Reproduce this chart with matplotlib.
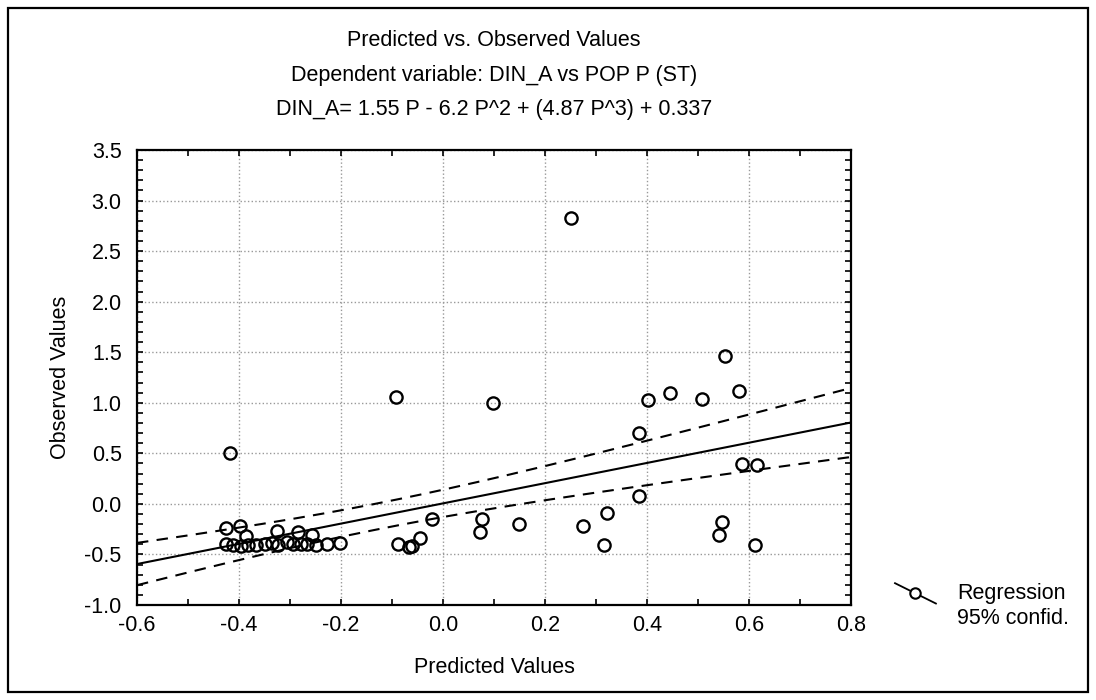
import numpy as np
import matplotlib
matplotlib.use("Agg")
import matplotlib.pyplot as plt
from matplotlib.lines import Line2D
from matplotlib.legend_handler import HandlerBase
from matplotlib.patches import Rectangle
from matplotlib.ticker import MultipleLocator, FormatStrFormatter

plt.rcParams['font.family'] = ['Liberation Sans', 'DejaVu Sans']

# ---- data ----
predicted = [
    -0.418, -0.425, -0.399, -0.386, -0.326, -0.285, -0.256,
    -0.425, -0.411, -0.396, -0.382, -0.367, -0.350, -0.336, -0.323,
    -0.305, -0.294, -0.278, -0.266, -0.249, -0.228, -0.202,
    -0.093, 0.099, -0.021, 0.076, 0.073, -0.089, -0.061, -0.066, -0.046,
    0.149, 0.275, 0.321, 0.316,
    0.553, 0.401, 0.446, 0.508, 0.580, 0.384, 0.587, 0.615, 0.384,
    0.548, 0.541, 0.612, 0.251,
]
observed = [
    0.507, -0.24, -0.22, -0.32, -0.27, -0.28, -0.31,
    -0.40, -0.41, -0.415, -0.41, -0.41, -0.40, -0.39, -0.41,
    -0.38, -0.40, -0.40, -0.40, -0.41, -0.40, -0.39,
    1.06, 1.00, -0.15, -0.15, -0.28, -0.40, -0.42, -0.43, -0.34,
    -0.20, -0.22, -0.09, -0.41,
    1.46, 1.03, 1.10, 1.04, 1.12, 0.705, 0.395, 0.38, 0.08,
    -0.18, -0.31, -0.41, 2.83,
]

# fitted regression line and 95% confidence band parameters
reg_slope = 1.0
reg_intercept = 0.005
ci_center = -0.12
ci_var0 = 0.0165
ci_varslope = 0.118

titles = [
    "Predicted vs. Observed Values",
    "Dependent variable: DIN_A vs POP P (ST)",
    "DIN_A= 1.55 P - 6.2 P^2 + (4.87 P^3) + 0.337",
]
x_label = "Predicted Values"
y_label = "Observed Values"
legend_labels = ["Regression", "95% confid."]
x_lim = (-0.6, 0.8)
y_lim = (-1.0, 3.5)

# ---- figure ----
fig = plt.figure(figsize=(10.96, 7.0), dpi=100)
ax = fig.add_axes([137 / 1096, 1 - 605 / 700, (851 - 137) / 1096, (605 - 150) / 700])

xs = np.linspace(x_lim[0], x_lim[1], 200)
yfit = reg_intercept + reg_slope * xs
hw = np.sqrt(ci_var0 + ci_varslope * (xs - ci_center) ** 2)

ax.plot(xs, yfit, color='black', lw=1.5, zorder=3)
ax.plot(xs, yfit + hw, color='black', lw=1.5, ls=(0, (5.5, 4)), zorder=3)
ax.plot(xs, yfit - hw, color='black', lw=1.5, ls=(0, (5.5, 4)), zorder=3)

ax.plot(predicted, observed, ls='none', marker='o', ms=8.8, mfc='none',
        mec='black', mew=1.7, zorder=4, clip_on=False)

ax.set_xlim(*x_lim)
ax.set_ylim(*y_lim)
ax.xaxis.set_major_locator(MultipleLocator(0.2))
ax.xaxis.set_minor_locator(MultipleLocator(0.1))
ax.yaxis.set_major_locator(MultipleLocator(0.5))
ax.yaxis.set_minor_locator(MultipleLocator(0.1))
ax.xaxis.set_major_formatter(FormatStrFormatter('%.1f'))
ax.yaxis.set_major_formatter(FormatStrFormatter('%.1f'))
ax.tick_params(which='both', direction='in', top=True, right=True,
               length=4, width=1.2, color='black')
ax.tick_params(which='major', labelsize=15.5)
ax.tick_params(axis='x', which='major', pad=7)
ax.tick_params(axis='y', which='major', pad=11)
ax.grid(True, which='major', color='#999999', ls=':', lw=1.0)
for s in ax.spines.values():
    s.set_linewidth(1.6)
    s.set_color('black')

ax.set_xlabel(x_label, fontsize=15.5, labelpad=15)
ax.set_ylabel(y_label, fontsize=15.5, labelpad=10)

cx = (137 + 851) / 2 / 1096
for t, ypix in zip(titles, [40, 76, 110]):
    fig.text(cx, 1 - ypix / 700, t, ha='center', va='center', fontsize=15.5)


class DiagHandler(HandlerBase):
    def create_artists(self, legend, orig_handle, xdescent, ydescent,
                       width, height, fontsize, trans):
        if orig_handle.get_label() == 'blank':
            blank = Line2D([], [], transform=trans)
            blank.set_visible(False)
            return [blank]
        ln = Line2D([-xdescent, -xdescent + width],
                    [-ydescent + height * 1.05, -ydescent - height * 0.3],
                    color='black', lw=1.3, transform=trans)
        mk = Line2D([-xdescent + width * 0.48], [-ydescent + height * 0.4],
                    marker='o', ms=7.5, mfc='white', mec='black', mew=1.5,
                    ls='none', transform=trans)
        return [ln, mk]


h1 = Line2D([], [], color='black', label='main')
h2 = Line2D([], [], color='black', label='blank')
leg = fig.legend([h1, h2], legend_labels, handler_map={Line2D: DiagHandler()},
                 loc='upper left', bbox_to_anchor=(895 / 1096, 1 - 583 / 700),
                 frameon=False, fontsize=15.5, handlelength=1.9, handletextpad=1.0,
                 labelspacing=0.2, borderaxespad=0, borderpad=0)

fig.patches.append(Rectangle((8 / 1096, 8 / 700), 1080 / 1096, 684 / 700,
                             transform=fig.transFigure, fill=False,
                             edgecolor='black', lw=1.6))

fig.savefig("out.png", dpi=100)
